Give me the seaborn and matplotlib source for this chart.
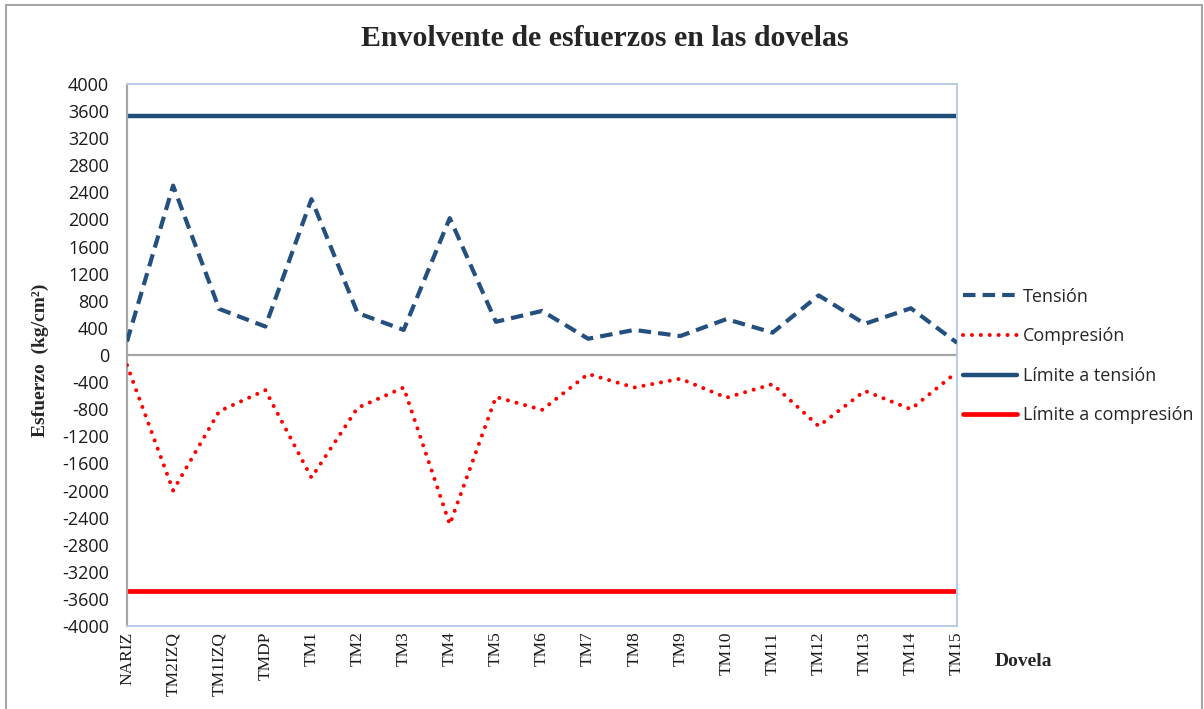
import matplotlib
matplotlib.use("Agg")
import matplotlib.pyplot as plt
import seaborn as sns
import pandas as pd
from matplotlib.patches import Rectangle
from matplotlib.lines import Line2D

# Segment (dovela) names along the span
dovelas = ["NARIZ", "TM2IZQ", "TM1IZQ", "TMDP", "TM1", "TM2", "TM3", "TM4", "TM5",
           "TM6", "TM7", "TM8", "TM9", "TM10", "TM11", "TM12", "TM13", "TM14", "TM15"]

# Stress envelope, kg/cm²
tension = [200, 2500, 680, 420, 2300, 620, 370, 2020, 490,
           650, 240, 370, 280, 530, 330, 880, 460, 690, 180]
compresion = [-150, -2000, -830, -520, -1810, -780, -480, -2500, -620,
              -810, -280, -480, -350, -630, -430, -1050, -530, -800, -250]

# Allowable limits, kg/cm²
limite_tension = 3530
limite_compresion = -3490

y_ticks = list(range(-4000, 4001, 400))

sns.set_theme(style="white")
plt.rcParams["font.family"] = ["Open Sans", "DejaVu Sans"]

fig = plt.figure(figsize=(12.04, 7.09), dpi=100)
ax = fig.add_axes([127 / 1204, 1 - 626 / 709, 830 / 1204, 542 / 709])

df = pd.DataFrame({"dovela": dovelas, "Tensión": tension, "Compresión": compresion,
                   "lim_t": [limite_tension] * len(dovelas),
                   "lim_c": [limite_compresion] * len(dovelas)})
df["pos"] = range(len(dovelas))

blue = "#24507f"
red = "#ff0000"

# Zero line (category axis crosses at 0)
ax.axhline(0, color="#a6a6a6", lw=1.6, zorder=1)

sns.lineplot(data=df, x="pos", y="lim_t", ax=ax, color="#1f4e79", lw=3.2,
             solid_capstyle="butt", zorder=2)
sns.lineplot(data=df, x="pos", y="lim_c", ax=ax, color=red, lw=3.4,
             solid_capstyle="butt", zorder=2)
sns.lineplot(data=df, x="pos", y="Tensión", ax=ax, color=blue, lw=3.0, zorder=3,
             dashes=False)
sns.lineplot(data=df, x="pos", y="Compresión", ax=ax, color=red, lw=2.9, zorder=3,
             dashes=False)

lines = ax.get_lines()
# lines: axhline, lim_t, lim_c, tension, compression
lines[3].set_dashes((3.0, 1.7))
lines[3].set_dash_capstyle("butt")
lines[4].set_dashes((0.01, 2.2))
lines[4].set_dash_capstyle("round")

ax.set_xlim(0, len(dovelas) - 1)
ax.set_ylim(-4000, 4000)
ax.set_yticks(y_ticks)
ax.set_yticklabels([str(v) for v in y_ticks], fontsize=13, color="#1a1a1a")
ax.set_xticks(range(len(dovelas)))
ax.set_xticklabels(dovelas, rotation=90, family="Liberation Serif", fontsize=12.5,
                   color="#1a1a1a", va="top")
ax.tick_params(axis="y", length=0, pad=13)
ax.tick_params(axis="x", length=0, pad=4)
ax.set_xlabel("")
ax.set_ylabel("")

for side in ["top", "right", "bottom"]:
    ax.spines[side].set_color("#b8cce8")
    ax.spines[side].set_linewidth(1.4)
ax.spines["left"].set_color("#a6a6a6")
ax.spines["left"].set_linewidth(1.6)

fig.text(605 / 1204, 1 - 38 / 709, "Envolvente de esfuerzos en las dovelas",
         family="Liberation Serif", weight="bold", fontsize=21.5, ha="center", va="center")
fig.text(40 / 1204, 1 - 360 / 709, "Esfuerzo  (kg/cm²)", family="Liberation Serif",
         weight="bold", fontsize=14, rotation=90, ha="center", va="center")
fig.text(1023 / 1204, 1 - 662 / 709, "Dovela", family="Liberation Serif",
         weight="bold", fontsize=14, ha="center", va="center")

handles = [
    Line2D([], [], color=blue, lw=3.0, dashes=(3.0, 1.7)),
    Line2D([], [], color=red, lw=2.9, dashes=(0.01, 2.2), dash_capstyle="round"),
    Line2D([], [], color="#1f4e79", lw=3.2),
    Line2D([], [], color=red, lw=3.4),
]
labels = ["Tensión", "Compresión", "Límite a tensión", "Límite a compresión"]
fig.legend(handles, labels, loc="center left", bbox_to_anchor=(963 / 1204, 1 - 356 / 709),
           frameon=False, fontsize=13, handlelength=3.0, handletextpad=0.3,
           labelspacing=1.2, borderaxespad=0, borderpad=0)

# Outer chart border
fig.patches.append(Rectangle((6 / 1204, -0.02), 1196 / 1204, 1 - 5 / 709 + 0.02,
                             transform=fig.transFigure, fill=False,
                             edgecolor="#a6a6a6", lw=1.5))

fig.savefig("out.png", dpi=100)
